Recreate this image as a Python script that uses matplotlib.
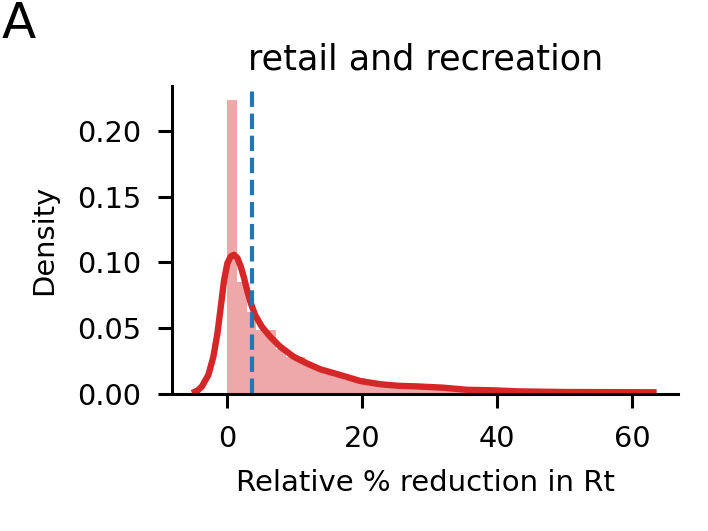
import numpy as np
import matplotlib
matplotlib.use("Agg")
import matplotlib.pyplot as plt

# ---- data ----
hist_range = (0.0, 63.5)
n_bins = 44
hist_density = [0.223, 0.085, 0.062, 0.049, 0.049, 0.034, 0.028, 0.028,
                0.021, 0.018, 0.015, 0.013, 0.011, 0.009, 0.008, 0.007,
                0.006, 0.006, 0.006, 0.006, 0.0055, 0.005, 0.0045, 0.004,
                0.003, 0.003, 0.003, 0.0028, 0.002, 0.002, 0.0015, 0.0015,
                0.0015, 0.0015, 0.0015, 0.0015, 0.0015, 0.0015, 0.0015, 0.0015,
                0.0015, 0.0015, 0.0015, 0.0015]

kde_x = [-5.2, -5.0, -4.4, -3.75, -2.77, -2.03, -1.43, -0.94, -0.44, 0.05, 0.54,
         1.04, 1.53, 2.02, 2.52, 3.01, 3.51, 4.15, 5.14, 6.37, 7.85,
         9.83, 11.8, 13.8, 16.7, 19.7, 22.7, 25.5, 28.0, 32.0, 35.5,
         39.4, 43.0, 50.0, 57.0, 63.6]
kde_y = [0.0008, 0.0012, 0.0025, 0.0056, 0.0145, 0.0284, 0.046, 0.066, 0.0868, 0.0995, 0.1045,
         0.1058, 0.1033, 0.0969, 0.088, 0.0779, 0.069, 0.060, 0.0512, 0.0436, 0.036,
         0.0284, 0.0233, 0.0188, 0.0145, 0.0099, 0.0074, 0.0062, 0.0058, 0.0048, 0.0032,
         0.0028, 0.002, 0.0015, 0.0014, 0.0013]

median_value = 3.66

title = "retail and recreation"
xlabel = "Relative % reduction in Rt"
ylabel = "Density"
panel_letter = "A"

# ---- figure ----
fig = plt.figure(figsize=(3.54, 2.655), dpi=200)
ax = fig.add_axes([0.243, 0.258, 0.715, 0.580])

edges = np.linspace(hist_range[0], hist_range[1], n_bins + 1)
ax.bar(edges[:-1], hist_density, width=np.diff(edges), align="edge",
       color="#d62728", alpha=0.4, linewidth=0)
ax.plot(kde_x, kde_y, color="#d62728", lw=2.3, solid_capstyle="butt",
        solid_joinstyle="round")
ax.axvline(median_value, color="#1f77b4", lw=1.5, ls="--")

ax.set_xlim(-8.15, 66.8)
ax.set_ylim(0, 0.234)
ax.set_xticks([0, 20, 40, 60])
ax.set_yticks([0.0, 0.05, 0.10, 0.15, 0.20])
ax.yaxis.set_major_formatter(matplotlib.ticker.FormatStrFormatter("%.2f"))

for s in ["top", "right"]:
    ax.spines[s].set_visible(False)
for s in ["left", "bottom"]:
    ax.spines[s].set_linewidth(1.1)
ax.tick_params(axis="both", length=5, width=1.1, pad=6, labelsize=10.4)

ax.set_title(title, fontsize=12.6, pad=6)
ax.set_xlabel(xlabel, fontsize=10.5, labelpad=6)
ax.set_ylabel(ylabel, fontsize=10.4, labelpad=7)

fig.text(0.002, 1.0, panel_letter, fontsize=18, ha="left", va="top")

fig.savefig("out.png", dpi=200)
